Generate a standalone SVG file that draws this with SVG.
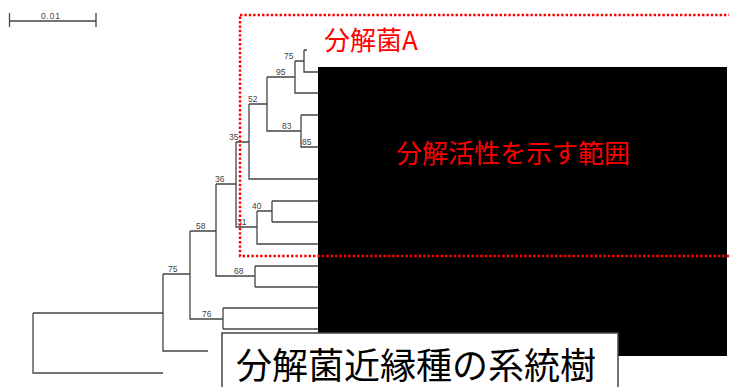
<svg xmlns="http://www.w3.org/2000/svg" width="729" height="387" viewBox="0 0 729 387">
<style>
.br{fill:none;stroke:#444;stroke-width:1.3}
.bs{fill:#444;font-family:"Liberation Sans",Arial,sans-serif;font-size:8.5px}
.red{fill:#ff0000;font-family:"Noto Sans CJK JP","Noto Sans",sans-serif;font-size:26px}
</style>
<rect width="729" height="387" fill="#ffffff"/>
<g id="scale">
<path class="br" d="M9.5,21H96M9.5,13V27M96,13V27"/>
<text class="bs" x="41" y="18.5" font-size="10" letter-spacing="0.8">0.01</text>
</g>
<g id="connectors">
<path class="br" d="M33,313V373H163M33,313H163"/>
<path class="br" d="M163,274V351H208M163,274H190"/>
<path class="br" d="M190,231V319H223M190,231H216"/>
<path class="br" d="M223,308V329M223,308H318M223,329H318"/>
<path class="br" d="M216,184V276H255M216,184H236"/>
<path class="br" d="M255,266V287M255,266H318M255,287H318"/>
<path class="br" d="M236,142V227H257M236,142H249"/>
<path class="br" d="M257,211V244H318M257,211H272"/>
<path class="br" d="M272,201V222M272,201H318M272,222H318"/>
<path class="br" d="M249,104V179H318M249,104H267"/>
<path class="br" d="M267,77V131H301M267,77H295"/>
<path class="br" d="M301,115V147H318M301,115H318"/>
<path class="br" d="M295,61V93H318M295,61H304"/>
<path class="br" d="M304,50V72H318M304,50H307"/>
</g>
<g id="n75a"><text class="bs" x="284" y="59">75</text></g>
<g id="n95"><text class="bs" x="276" y="75">95</text></g>
<g id="n52"><text class="bs" x="248" y="102">52</text></g>
<g id="n83"><text class="bs" x="282" y="129">83</text></g>
<g id="n85"><text class="bs" x="302" y="145">85</text></g>
<g id="n35"><text class="bs" x="229" y="140">35</text></g>
<g id="n36"><text class="bs" x="215" y="182">36</text></g>
<g id="n40"><text class="bs" x="252" y="209">40</text></g>
<g id="n31"><text class="bs" x="237" y="225">31</text></g>
<g id="n58"><text class="bs" x="196" y="229">58</text></g>
<g id="n68"><text class="bs" x="234" y="274">68</text></g>
<g id="n75b"><text class="bs" x="168" y="272">75</text></g>
<g id="n76"><text class="bs" x="202" y="317">76</text></g>
<g id="mask"><rect x="318" y="67" width="409" height="289" fill="#000000"/></g>
<g id="regionA">
<rect x="240" y="15" width="520" height="241" fill="none" stroke="#ff0000" stroke-width="2.4" stroke-dasharray="2.4 2"/>
<text class="red" x="324" y="50">分解菌A</text>
</g>
<g id="activity"><text class="red" x="396" y="163">分解活性を示す範囲</text></g>
<g id="title">
<rect x="222" y="333" width="396" height="70" fill="#ffffff" stroke="#444" stroke-width="1.5"/>
<text x="236" y="379" font-family="'Noto Sans CJK JP','Noto Sans',sans-serif" font-size="36" fill="#000">分解菌近縁種の系統樹</text>
</g>
</svg>
